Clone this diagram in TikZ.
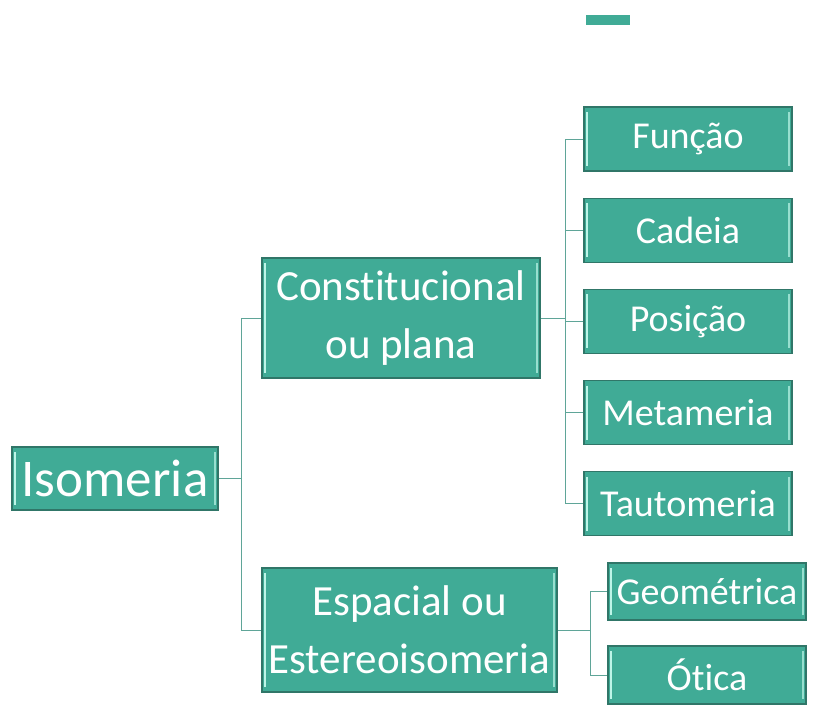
\documentclass[tikz,border=0pt]{standalone}
\usepackage{fontspec}
\setmainfont{Carlito}[Ligatures=NoCommon]
\usepackage{tikz}
\usetikzlibrary{positioning}

\definecolor{boxfill}{RGB}{64,171,150}
\definecolor{boxedge}{RGB}{48,118,104}
\definecolor{boxlight}{RGB}{190,245,232}
\definecolor{linkcol}{RGB}{95,165,152}

\tikzset{
  bevel/.style={draw=boxedge, line width=1.2pt, fill=boxfill, text=white,
    inner sep=0pt, align=center,
    path picture={
      \draw[boxlight, line width=1.6pt]
        ([xshift=3pt,yshift=-5pt]path picture bounding box.north west) --
        ([xshift=3pt,yshift=5pt]path picture bounding box.south west);
      \draw[boxlight!70!boxfill, line width=1.6pt]
        ([xshift=-3pt,yshift=-5pt]path picture bounding box.north east) --
        ([xshift=-3pt,yshift=5pt]path picture bounding box.south east);
    }},
  leaf/.style={bevel, minimum width=208pt, minimum height=64pt,
    font=\fontsize{38}{44}\selectfont},
  leafb/.style={bevel, minimum width=198pt, minimum height=57pt,
    font=\fontsize{38}{44}\selectfont},
  mid/.style={bevel, font=\fontsize{43}{58}\selectfont},
  link/.style={draw=linkcol, line width=0.9pt}
}

\begin{document}
\begin{tikzpicture}[x=1pt, y=1pt]
  \useasboundingbox (0,0) rectangle (813,-707);

  % Boxes
  \node[bevel, minimum width=206pt, minimum height=63pt,
        font=\fontsize{53}{60}\selectfont] (iso) at (115,-478.5) {Isomeria};
  \node[mid, minimum width=278pt, minimum height=120pt] (cons) at (401,-318)
        {Constitucional\\ou plana};
  \node[mid, minimum width=295pt, minimum height=124pt] (esp) at (409.5,-630)
        {Espacial ou\\Estereoisomeria};

  \node[leaf] (fun) at (688,-139) {Função};
  \node[leaf, below=26pt of fun] (cad) {Cadeia};
  \node[leaf, below=26pt of cad] (pos) {Posição};
  \node[leaf, below=26pt of pos] (met) {Metameria};
  \node[leaf, below=26pt of met] (tau) {Tautomeria};

  \node[leafb] (geo) at (707,-591.5) {Geométrica};
  \node[leafb, minimum height=58pt] (oti) at (707,-675) {Ótica};

  \fill[boxfill] (586,-15) rectangle (630,-25);

  % Links
  \draw[link] (iso.east) -- ++(23,0) coordinate (j1);
  \draw[link] (j1) |- (cons.west);
  \draw[link] (j1) |- (esp.west);

  \draw[link] (cons.east) -- ++(25,0) coordinate (j2);
  \foreach \n in {fun,cad,pos,met,tau}
    \draw[link] (j2) |- (\n.west);

  \draw[link] (esp.east) -- ++(33,0) coordinate (j3);
  \draw[link] (j3) |- (geo.west);
  \draw[link] (j3) |- (oti.west);

\end{tikzpicture}
\end{document}
